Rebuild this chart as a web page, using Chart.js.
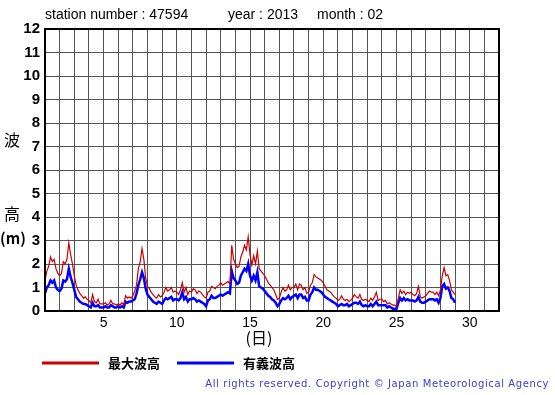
<!DOCTYPE html>
<html>
<head>
<meta charset="utf-8">
<script src="https://cdn.jsdelivr.net/npm/chart.js@4/dist/chart.umd.min.js"></script>
<style>
  html, body { margin: 0; padding: 0; background: #ffffff; }
  canvas { display: block; }
</style>
</head>
<body>
<canvas id="waveChart" width="555" height="395"></canvas>
<script>
// 3-hourly readings, starting at day 1 00:00 (8 per day)
const startDay = 1;
const stepHours = 3;

const maxWave = [
    1.3, 1.7, 1.9, 2.3, 2.1, 2.2, 1.8, 1.6,
    1.5, 1.6, 2.1, 2.0, 2.2, 2.9, 2.4, 2.0,
    1.5, 1.1, 0.9, 0.75, 0.65, 0.55, 0.6, 0.5,
    0.45, 0.35, 0.7, 0.4, 0.35, 0.5, 0.3, 0.3,
    0.3, 0.35, 0.25, 0.3, 0.45, 0.3, 0.3, 0.25,
    0.3, 0.25, 0.35, 0.25, 0.65, 0.55, 0.6, 0.55,
    0.65, 0.85, 1.1, 1.8, 2.1, 2.65, 2.2, 1.4,
    1.05, 0.95, 0.8, 0.7, 0.6, 0.55, 0.7, 0.6,
    0.65, 0.8, 1.0, 0.85, 0.9, 1.0, 0.8, 0.85,
    0.8, 0.7, 0.9, 1.2, 0.8, 1.0, 0.7, 0.85,
    0.8, 0.95, 0.9, 0.75, 0.85, 0.8, 0.7, 0.6,
    0.55, 0.8, 0.85, 1.05, 1.0, 0.95, 1.05, 1.1,
    1.2, 1.1, 1.15, 1.2, 1.25, 1.15, 2.8, 2.2,
    2.0, 1.85, 1.9, 2.3, 2.5, 2.8, 2.6, 3.15,
    2.4, 1.95, 2.35, 2.0, 2.55, 1.8, 1.7, 1.6,
    1.5, 1.35, 1.2, 1.1, 1.0, 0.9, 0.7, 0.5,
    0.55, 0.8, 1.0, 0.85, 0.9, 1.1, 0.9, 1.0,
    1.0, 1.15, 0.9, 1.15, 1.1, 0.9, 1.0, 0.75,
    0.8, 1.1, 1.2, 1.55, 1.45, 1.4, 1.35, 1.3,
    1.2, 1.05, 0.9, 0.85, 0.8, 0.7, 0.6, 0.55,
    0.45, 0.5, 0.65, 0.5, 0.45, 0.5, 0.4, 0.45,
    0.55, 0.7, 0.6, 0.55, 0.7, 0.5, 0.45, 0.5,
    0.45, 0.4, 0.55, 0.45, 0.6, 0.8, 0.45, 0.5,
    0.5, 0.4, 0.45, 0.3, 0.35, 0.3, 0.25, 0.25,
    0.2, 0.55, 0.9, 0.75, 0.85, 0.7, 0.8, 0.75,
    0.8, 0.7, 0.65, 0.75, 1.05, 0.6, 0.55, 0.6,
    0.65, 0.75, 0.85, 0.8, 0.8, 0.7, 0.8, 0.65,
    0.9, 1.5, 1.85, 1.5, 1.55, 1.3, 0.9, 0.8,
    0.7
];

const sigWave = [
    0.75, 1.0, 1.1, 1.3, 1.2, 1.3, 1.0, 0.9,
    0.85, 0.95, 1.3, 1.25, 1.35, 1.8, 1.45, 1.2,
    0.9, 0.6, 0.5, 0.4, 0.35, 0.3, 0.3, 0.25,
    0.2, 0.15, 0.35, 0.2, 0.2, 0.25, 0.15, 0.15,
    0.15, 0.2, 0.15, 0.15, 0.25, 0.2, 0.15, 0.15,
    0.2, 0.15, 0.2, 0.15, 0.4, 0.35, 0.4, 0.4,
    0.45, 0.5, 0.75, 1.1, 1.35, 1.65, 1.4, 0.95,
    0.7, 0.6, 0.5, 0.4, 0.35, 0.3, 0.4, 0.35,
    0.3, 0.45, 0.55, 0.5, 0.55, 0.6, 0.45, 0.5,
    0.5, 0.45, 0.55, 0.8, 0.5, 0.6, 0.4, 0.5,
    0.5, 0.55, 0.5, 0.4, 0.45, 0.4, 0.35, 0.3,
    0.2, 0.45, 0.5, 0.65, 0.55, 0.55, 0.6, 0.65,
    0.7, 0.65, 0.7, 0.75, 0.8, 0.75, 1.7, 1.4,
    1.3, 1.15, 1.2, 1.5, 1.65, 1.8, 1.7, 2.0,
    1.5, 1.3, 1.5, 1.3, 1.65, 1.05, 1.0, 0.95,
    0.85, 0.75, 0.65, 0.6, 0.5, 0.45, 0.35, 0.2,
    0.3, 0.45, 0.55, 0.5, 0.55, 0.65, 0.5, 0.6,
    0.65, 0.7, 0.55, 0.7, 0.7, 0.55, 0.6, 0.45,
    0.45, 0.7, 0.8, 1.0, 0.9, 0.9, 0.85, 0.8,
    0.7, 0.6, 0.55, 0.5, 0.45, 0.4, 0.35, 0.3,
    0.2, 0.25, 0.3, 0.25, 0.25, 0.3, 0.2, 0.25,
    0.3, 0.35, 0.35, 0.3, 0.4, 0.25, 0.2, 0.25,
    0.2, 0.2, 0.3, 0.2, 0.3, 0.4, 0.25, 0.25,
    0.25, 0.25, 0.25, 0.15, 0.2, 0.15, 0.1, 0.1,
    0.1, 0.35, 0.55, 0.45, 0.55, 0.45, 0.5, 0.45,
    0.45, 0.45, 0.4, 0.45, 0.6, 0.4, 0.35, 0.35,
    0.4, 0.45, 0.5, 0.5, 0.5, 0.45, 0.5, 0.35,
    0.55, 1.05, 1.15, 0.95, 1.0, 0.85, 0.55, 0.5,
    0.35
];

const seriesLabels = ["最大波高", "有義波高"];
const xTickLabels = [5, 10, 15, 20, 25, 30];
const yMax = 12;
const xMin = 1;
const xMax = 32;

function toPoints(values) {
    return values.map((v, i) => ({ x: startDay + (i * stepHours) / 24, y: v }));
}

const textPlugin = {
    id: "textPlugin",
    afterDraw(chart) {
        const { ctx, chartArea } = chart;
        ctx.save();
        // header
        ctx.fillStyle = "#000";
        ctx.font = "14px 'Liberation Sans', Arial, sans-serif";
        ctx.textBaseline = "middle";
        ctx.textAlign = "left";
        ctx.fillText("station number : 47594", 45, 15);
        ctx.fillText("year : 2013", 228, 15);
        ctx.fillText("month : 02", 317, 15);

        // y axis title
        ctx.font = "16px 'Noto Sans CJK JP', sans-serif";
        ctx.textAlign = "center";
        ctx.fillText("波", 12, 140);
        ctx.fillText("高", 12, 214);
        ctx.font = "bold 15px 'Noto Sans CJK JP', sans-serif";
        ctx.fillText("(m)", 13, 238);

        // x axis title
        ctx.font = "16px 'Noto Sans CJK JP', sans-serif";
        ctx.fillText("(日)", 259, 338);

        // legend
        const legendItems = [
            { x: 42, color: chart.data.datasets[0].borderColor, label: chart.data.datasets[0].label },
            { x: 177, color: chart.data.datasets[1].borderColor, label: chart.data.datasets[1].label },
        ];
        ctx.font = "bold 13px 'Noto Sans CJK JP', sans-serif";
        ctx.textAlign = "left";
        legendItems.forEach((item) => {
            ctx.strokeStyle = item.color;
            ctx.lineWidth = 3;
            ctx.beginPath();
            ctx.moveTo(item.x, 363);
            ctx.lineTo(item.x + 57, 363);
            ctx.stroke();
            ctx.fillStyle = "#000";
            ctx.fillText(item.label, item.x + 66, 363);
        });

        // footer
        ctx.fillStyle = "#3b3bd0";
        ctx.font = "10px 'DejaVu Sans', sans-serif";
        ctx.textAlign = "right";
        ctx.letterSpacing = "0.6px";
        ctx.fillText("All rights reserved. Copyright © Japan Meteorological Agency", 549, 384);

        // frame
        ctx.strokeStyle = "#000";
        ctx.lineWidth = 2;
        ctx.strokeRect(chartArea.left, chartArea.top, chartArea.right - chartArea.left, chartArea.bottom - chartArea.top);
        ctx.restore();
    },
};

new Chart(document.getElementById("waveChart"), {
    type: "line",
    data: {
        datasets: [
            {
                label: seriesLabels[0],
                data: toPoints(maxWave),
                borderColor: "#cc0000",
                borderWidth: 1.2,
                pointRadius: 0,
                tension: 0,
            },
            {
                label: seriesLabels[1],
                data: toPoints(sigWave),
                borderColor: "#0000ff",
                borderWidth: 2.5,
                pointRadius: 0,
                tension: 0,
            },
        ],
    },
    options: {
        responsive: false,
        animation: false,
        layout: { padding: { top: 29, right: 56, left: 0, bottom: 0 } },
        plugins: {
            legend: { display: false },
            tooltip: { enabled: false },
        },
        scales: {
            x: {
                type: "linear",
                min: xMin,
                max: xMax,
                afterFit(scale) { scale.height = 84; },
                afterBuildTicks(scale) {
                    const ticks = [];
                    for (let d = xMin; d <= xMax; d++) ticks.push({ value: d });
                    scale.ticks = ticks;
                },
                ticks: {
                    autoSkip: false,
                    maxRotation: 0,
                    padding: 4,
                    color: "#000",
                    font: { family: "'Liberation Sans', Arial, sans-serif", size: 14 },
                    callback: (v) => (xTickLabels.includes(v) ? String(v) : ""),
                },
                grid: { color: "#555", lineWidth: 1, drawTicks: false },
                border: { display: false },
            },
            y: {
                min: 0,
                max: yMax,
                afterFit(scale) { scale.width = 45; },
                ticks: {
                    stepSize: 1,
                    padding: 5,
                    color: "#000",
                    font: { family: "'Liberation Sans', Arial, sans-serif", size: 15, weight: "bold" },
                },
                grid: { color: "#555", lineWidth: 1, drawTicks: false },
                border: { display: false },
            },
        },
    },
    plugins: [textPlugin],
});
</script>
</body>
</html>
